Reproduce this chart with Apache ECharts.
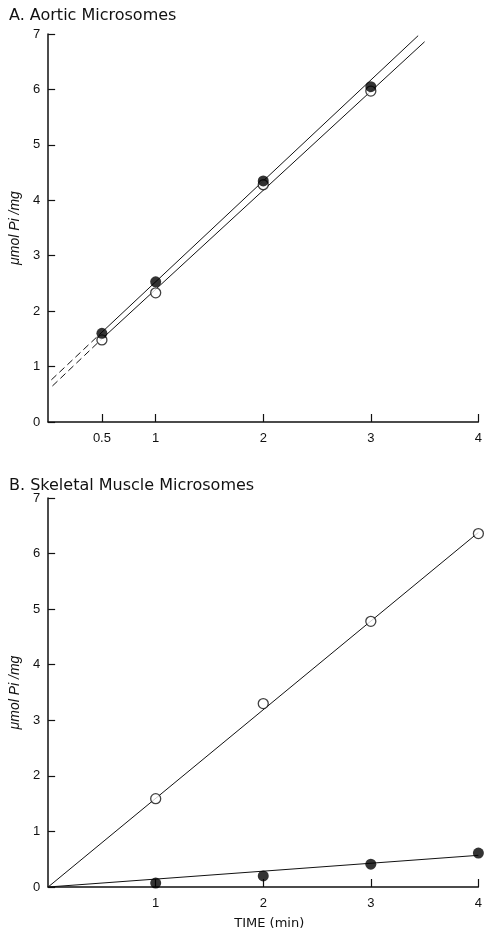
<!DOCTYPE html>
<html>
<head>
  <meta charset="utf-8" />
  <script src="https://cdn.jsdelivr.net/npm/echarts@6/dist/echarts.min.js"></script>
  <style>
    * { margin: 0; padding: 0; }
    #chart-container { width: 485px; height: 934px; background: #fff; }
  </style>
</head>
<body>
  <div id="chart-container"></div>
  <script>
    // panel A: aortic microsomes
    var timeA = [0.5, 1, 2, 3];
    var aorticFilled = [1.6, 2.53, 4.35, 6.05];
    var aorticOpen = [1.48, 2.33, 4.28, 5.97];
    var fitAFilled = [[0.5, 1.62], [3.44, 6.97]];
    var fitAFilledExtrap = [[0.03, 0.76], [0.5, 1.62]];
    var fitAOpen = [[0.5, 1.5], [3.5, 6.86]];
    var fitAOpenExtrap = [[0.04, 0.65], [0.5, 1.5]];
    var ticksA = [0.5, 1, 2, 3, 4];

    // panel B: skeletal muscle microsomes
    var timeB = [1, 2, 3, 4];
    var skeletalOpen = [1.59, 3.3, 4.78, 6.36];
    var skeletalFilled = [0.07, 0.2, 0.41, 0.61];
    var fitBOpen = [[0, 0], [4, 6.38]];
    var fitBFilled = [[0, 0], [4, 0.57]];
    var ticksB = [1, 2, 3, 4];

    var font = "'Liberation Sans', Arial, sans-serif";
    var titleFont = "'DejaVu Sans', sans-serif";
    var ink = '#111';

    function pairs(xs, ys) {
      return xs.map(function (x, i) { return [x, ys[i]]; });
    }

    function xAxisFor(grid, ticks, name) {
      return {
        gridIndex: grid, type: 'value', min: 0, max: 4,
        name: name || '', nameLocation: 'middle', nameGap: 30,
        nameTextStyle: { fontFamily: titleFont, fontSize: 13, color: ink, padding: [0, 0, 0, 12] },
        axisLine: { lineStyle: { color: ink, width: 1.5 } },
        axisTick: { inside: true, length: 8, customValues: ticks, lineStyle: { color: ink, width: 1.2 } },
        axisLabel: {
          customValues: ticks, margin: 10,
          fontFamily: font, fontSize: 13, color: ink
        },
        splitLine: { show: false }
      };
    }

    function yAxisFor(grid) {
      return {
        gridIndex: grid, type: 'value', min: 0, max: 7, interval: 1,
        name: 'μmol Pi /mg', nameLocation: 'middle', nameGap: 22,
        nameTextStyle: { fontFamily: font, fontSize: 14, fontStyle: 'italic', color: ink },
        axisLine: { lineStyle: { color: ink, width: 1.5 } },
        axisTick: { inside: true, length: 7, lineStyle: { color: ink, width: 1.2 } },
        axisLabel: { margin: 8, fontFamily: font, fontSize: 13, color: ink },
        splitLine: { show: false }
      };
    }

    function fitLine(idx, data, dashed) {
      return {
        type: 'line', xAxisIndex: idx, yAxisIndex: idx, data: data,
        symbol: 'none', silent: true, z: 1,
        lineStyle: { color: ink, width: 1, type: dashed ? [7, 4] : 'solid' }
      };
    }

    function points(idx, data, filled) {
      return {
        type: 'scatter', xAxisIndex: idx, yAxisIndex: idx, data: data,
        symbol: 'circle', symbolSize: filled ? 11 : 10, z: 3,
        itemStyle: filled
          ? { color: '#000', borderColor: '#000', borderWidth: 0 }
          : { color: '#fff', borderColor: ink, borderWidth: 1.3 }
      };
    }

    var dom = document.getElementById('chart-container');
    var myChart = echarts.init(dom, null, { renderer: 'canvas' });

    var option = {
      animation: false,
      title: [
        { text: 'A. Aortic Microsomes', left: 4, top: 3,
          textStyle: { fontFamily: titleFont, fontSize: 16, fontWeight: 'normal', color: ink } },
        { text: 'B. Skeletal Muscle Microsomes', left: 4, top: 473,
          textStyle: { fontFamily: titleFont, fontSize: 16, fontWeight: 'normal', color: ink } }
      ],
      grid: [
        { left: 48, right: 4, top: 34, height: 388 },
        { left: 48, right: 4, top: 498, height: 389 }
      ],
      xAxis: [xAxisFor(0, ticksA), xAxisFor(1, ticksB, 'TIME (min)')],
      yAxis: [yAxisFor(0), yAxisFor(1)],
      series: [
        fitLine(0, fitAFilled, false),
        fitLine(0, fitAFilledExtrap, true),
        fitLine(0, fitAOpen, false),
        fitLine(0, fitAOpenExtrap, true),
        points(0, pairs(timeA, aorticOpen), false),
        points(0, pairs(timeA, aorticFilled), true),
        fitLine(1, fitBOpen, false),
        fitLine(1, fitBFilled, false),
        points(1, pairs(timeB, skeletalOpen), false),
        points(1, pairs(timeB, skeletalFilled), true)
      ]
    };

    myChart.setOption(option);
    window.addEventListener('resize', myChart.resize);
  </script>
</body>
</html>
